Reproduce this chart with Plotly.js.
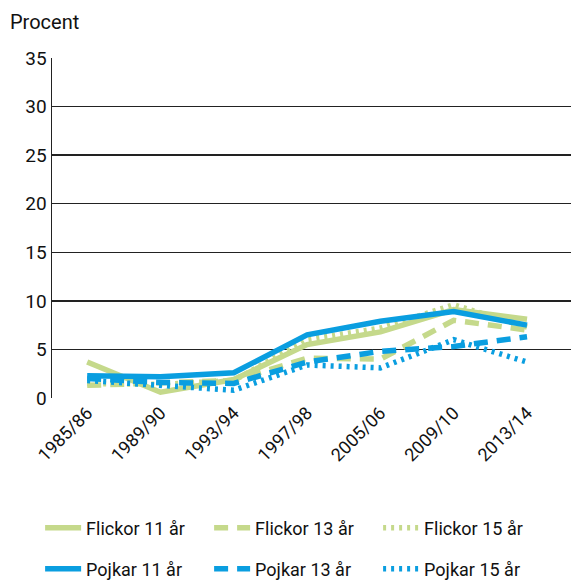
<!DOCTYPE html>
<html><head><meta charset="utf-8">
<script src="https://cdn.plot.ly/plotly-3.0.1.min.js"></script>
<style>body{margin:0;background:#fff}#c{width:573px;height:582px}</style>
</head><body><div id="c"></div>
<script>
const categories = ["1985/86","1989/90","1993/94","1997/98","2005/06","2009/10","2013/14"];
const flickor11 = [3.7, 0.6, 1.9, 5.5, 6.8, 9.1, 8.1];
const flickor13 = [1.3, 1.5, 1.8, 4.1, 4.0, 8.0, 7.0];
const flickor15 = [1.5, 1.4, 1.8, 6.0, 7.2, 9.6, 7.3];
const pojkar11 = [2.3, 2.2, 2.6, 6.5, 7.9, 8.9, 7.5];
const pojkar13 = [2.0, 1.6, 1.5, 3.7, 4.8, 5.3, 6.3];
const pojkar15 = [1.8, 1.3, 0.8, 3.4, 3.1, 6.0, 3.7];
const yTicks = [0,5,10,15,20,25,30,35];

const green = '#c5d98b', blue = '#0a9ee0';
const font = 'Roboto, sans-serif';
function tr(name, y, color, dash, legend){
  return {x: categories, y: y, name: name, type:'scatter', mode:'lines',
    line:{color: color, width: 5.5, dash: dash}, legend: legend};
}
const data = [
  tr('Flickor 11 år', flickor11, green, 'solid', 'legend'),
  tr('Flickor 13 år', flickor13, green, '14px,9px', 'legend'),
  tr('Flickor 15 år', flickor15, green, '3px,5px', 'legend'),
  tr('Pojkar 11 år', pojkar11, blue, 'solid', 'legend2'),
  tr('Pojkar 13 år', pojkar13, blue, '14px,9px', 'legend2'),
  tr('Pojkar 15 år', pojkar15, blue, '3px,5px', 'legend2'),
];
const legBase = {orientation:'h', xref:'container', yref:'container', xanchor:'left', yanchor:'middle',
  entrywidth:118, entrywidthmode:'pixels', itemwidth:36, font:{family:font, size:18, color:'#111'},
  bgcolor:'rgba(0,0,0,0)', traceorder:'normal', tracegroupgap:0, itemclick:false};
const layout = {
  width:573, height:582, margin:{l:52, r:2, t:58, b:184},
  paper_bgcolor:'#fff', plot_bgcolor:'#fff', font:{family:font, size:18, color:'#111'},
  xaxis:{type:'category', range:[-0.48, 6.6], tickangle:-45, showgrid:false, zeroline:false,
    showline:false, ticks:'', tickfont:{family:font, size:18, color:'#111'}},
  yaxis:{range:[0,35], tickvals:yTicks, showgrid:true, gridcolor:'#222', gridwidth:1.3,
    zeroline:false, showline:true, linecolor:'#222', linewidth:1.5, ticks:'',
    tickfont:{family:font, size:19, color:'#111'}},
  showlegend:true,
  legend: Object.assign({}, legBase, {x:0.07, y:1-528/582}),
  legend2: Object.assign({}, legBase, {x:0.07, y:1-569/582}),
  annotations:[{text:'Procent', xref:'paper', yref:'paper', x:-0.084, y:1.105, xanchor:'left', yanchor:'middle',
    showarrow:false, font:{family:font, size:20, color:'#111'}}]
};
Plotly.newPlot('c', data, layout, {displayModeBar:false, staticPlot:true});
</script></body></html>
